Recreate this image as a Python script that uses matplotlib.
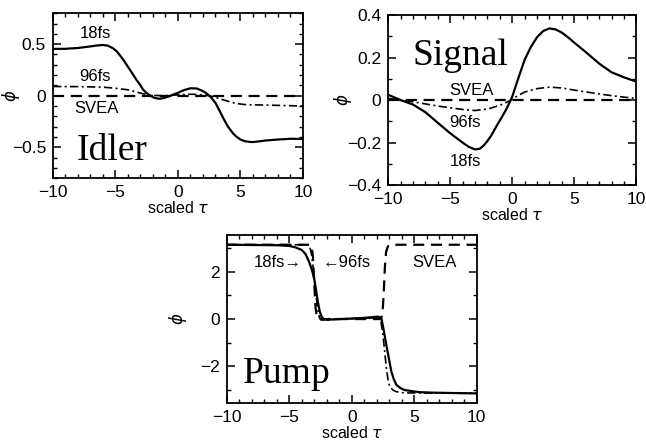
import matplotlib
matplotlib.use("Agg")
import matplotlib.pyplot as plt
from matplotlib.ticker import MultipleLocator, FuncFormatter

# ---- Idler ----
idl_tau = [-10, -9, -8, -7, -6.5, -6, -5.6, -5.2, -4.9, -4.6, -4.3, -4, -3.7, -3.3, -3,
           -2.8, -2.5, -2.2, -1.9, -1.5, -1.1, -0.7, -0.3, 0, 0.5, 1, 1.5, 1.9, 2.2, 2.6,
           3, 3.3, 3.7, 4, 4.4, 4.7, 5, 5.3, 5.7, 6, 6.5, 7, 8, 9, 10]
idl_18 = [0.454, 0.455, 0.463, 0.478, 0.487, 0.492, 0.485, 0.46, 0.43, 0.385, 0.335,
          0.28, 0.225, 0.15, 0.10, 0.06, 0.025, 0.0, -0.02, -0.03, -0.022, -0.005, 0.015,
          0.028, 0.055, 0.072, 0.07, 0.05, 0.03, -0.01, -0.07, -0.14, -0.235, -0.30,
          -0.365, -0.40, -0.425, -0.44, -0.448, -0.45, -0.443, -0.435, -0.425, -0.418,
          -0.42]
idl96_tau = [-10, -8, -6, -5, -4, -3.4, -2.8, -2.3, -2, -1, 0, 1, 2, 2.7, 3.3, 4, 4.6,
             5.3, 6, 6.7, 8, 9, 10]
idl_96 = [0.089, 0.088, 0.083, 0.072, 0.057, 0.038, 0.019, 0.008, 0.003, 0.0, 0.008,
          0.014, 0.01, -0.006, -0.028, -0.054, -0.074, -0.086, -0.089, -0.09, -0.094,
          -0.097, -0.10]

# ---- Signal ----
sig_tau = [-10, -9, -8, -7, -6, -5, -4, -3.5, -3, -2.6, -2.3, -2, -1.67, -1.3, -0.86,
           -0.5, -0.19, 0, 0.5, 1, 1.5, 2, 2.5, 3, 3.5, 4, 4.5, 5, 6, 7, 8, 9, 10]
sig_18 = [0.025, 0.0, -0.021, -0.057, -0.107, -0.156, -0.20, -0.22, -0.232, -0.228,
          -0.213, -0.192, -0.164, -0.125, -0.082, -0.045, -0.008, 0.017, 0.105, 0.19,
          0.25, 0.296, 0.325, 0.337, 0.332, 0.317, 0.295, 0.27, 0.222, 0.172, 0.131,
          0.107, 0.087]
sig96_tau = [-10, -8, -6, -4, -3, -1.9, -0.86, -0.2, 0, 1, 2, 3, 4, 5, 6, 7, 8, 9, 10]
sig_96 = [0.008, -0.008, -0.028, -0.044, -0.049, -0.041, -0.021, -0.003, 0.006, 0.038,
          0.054, 0.061, 0.057, 0.047, 0.038, 0.029, 0.021, 0.014, 0.008]

# ---- Pump ----
pmp_tau = [-10, -6, -5, -4.5, -4, -3.7, -3.4, -3.2, -3.0, -2.85, -2.7, -2.55, -2.4, -2.2,
           -2, -1, 0, 1, 1.8, 2.1, 2.37, 2.55, 2.77, 3.0, 3.17, 3.37, 3.57, 3.9, 4.24, 5,
           5.44, 6.5, 7.57, 10]
pmp_18 = [3.14, 3.12, 3.09, 3.03, 2.92, 2.75, 2.4, 2.1, 1.7, 1.2, 0.7, 0.3, 0.08, -0.02,
          -0.03, 0.0, 0.02, 0.05, 0.09, 0.1, 0.04, -0.45, -1.1, -1.75, -2.22, -2.55,
          -2.78, -2.92, -3.0, -3.06, -3.09, -3.11, -3.12, -3.14]
pmp96_tau = [-10, -3.5, -3.35, -3.2, -3.05, -2.9, -2.75, -2.6, -2.45, -2.2, -2, 0, 2,
             2.3, 2.5, 2.65, 2.77, 2.9, 3.04, 3.3, 3.57, 4.2, 10]
pmp_96 = [3.14, 3.14, 3.05, 2.7, 2.0, 1.2, 0.5, 0.08, -0.04, -0.04, -0.03, 0.02, 0.05,
          0.02, -0.67, -1.45, -2.08, -2.55, -2.86, -3.0, -3.07, -3.12, -3.14]
svea_tau = [-10, -3.35, -3.2, -3.1, -3.0, -2.9, -2.8, -2.65, 2.3, 2.45, 2.55, 2.65,
            2.75, 2.9, 3.2, 10]
svea_p = [3.14, 3.14, 3.05, 2.6, 1.5, 0.5, 0.1, 0.0, 0.0, 0.2, 1.0, 2.2, 2.85, 3.08,
          3.14, 3.14]

SOLID = dict(color="black", lw=1.6)
DASH = dict(color="black", lw=1.6, ls=(0, (5, 3)))
DASHDOT = dict(color="black", lw=1.2, ls=(0, (5, 2, 1.2, 2)))
SERIF = dict(family="Liberation Serif", fontsize=27)
SANS = "Liberation Sans"
plt.rcParams["font.family"] = SANS
plt.rcParams["mathtext.fontset"] = "dejavusans"

fig = plt.figure(figsize=(6.46, 4.41), dpi=100)

fmt = FuncFormatter(lambda v, _: ("%g" % round(v, 6)).replace("-", "\u2212"))


def style(ax, ylim, ymaj, ymin, ylab_x):
    ax.set_xlim(-10, 10)
    ax.set_ylim(*ylim)
    ax.xaxis.set_major_locator(MultipleLocator(5))
    ax.xaxis.set_minor_locator(MultipleLocator(1))
    ax.yaxis.set_major_locator(MultipleLocator(ymaj))
    ax.yaxis.set_minor_locator(MultipleLocator(ymin))
    ax.xaxis.set_major_formatter(fmt)
    ax.yaxis.set_major_formatter(fmt)
    ax.tick_params(which="both", direction="in", top=True, right=True, labelsize=12.5)
    ax.tick_params(which="major", length=6, width=1.1, pad=5)
    ax.tick_params(which="minor", length=3, width=1.0)
    for s in ax.spines.values():
        s.set_linewidth(1.3)
    ax.set_xlabel(r"scaled $\tau$", fontsize=11.5, labelpad=0)
    ax.set_ylabel(r"$\phi$", fontsize=12)
    ax.yaxis.set_label_coords(ylab_x, 0.5)


# Idler
ax1 = fig.add_axes([0.082, 0.596, 0.387, 0.374])
ax1.plot(idl_tau, idl_18, **SOLID)
ax1.plot(idl96_tau, idl_96, **DASHDOT)
ax1.axhline(0, **DASH)
style(ax1, (-0.8, 0.8), 0.5, 0.1, -0.125)
ax1.text(-6.6, 0.6, "18fs", ha="center", va="center", fontsize=12)
ax1.text(-6.6, 0.19, "96fs", ha="center", va="center", fontsize=12)
ax1.text(-6.5, -0.12, "SVEA", ha="center", va="center", fontsize=12)
ax1.text(-5.3, -0.53, "Idler", ha="center", va="center", **SERIF)

# Signal
ax2 = fig.add_axes([0.601, 0.580, 0.384, 0.386])
ax2.plot(sig_tau, sig_18, **SOLID)
ax2.plot(sig96_tau, sig_96, **DASHDOT)
ax2.axhline(0, **DASH)
style(ax2, (-0.4, 0.4), 0.2, 0.1, -0.137)
ax2.text(-4.2, 0.21, "Signal", ha="center", va="center", **SERIF)
ax2.text(-3.3, 0.045, "SVEA", ha="center", va="center", fontsize=12)
ax2.text(-3.8, -0.105, "96fs", ha="center", va="center", fontsize=12)
ax2.text(-3.8, -0.29, "18fs", ha="center", va="center", fontsize=12)

# Pump
ax3 = fig.add_axes([0.351, 0.086, 0.387, 0.381])
ax3.plot(pmp_tau, pmp_18, **SOLID)
ax3.plot(pmp96_tau, pmp_96, **DASHDOT)
ax3.plot(svea_tau, svea_p, **DASH)
style(ax3, (-3.55, 3.55), 2, 1, -0.152)
ax3.text(-5.9, 2.41, "18fs\u2192", ha="center", va="center", fontsize=12,
         family=[SANS, "DejaVu Sans"])
ax3.text(-0.4, 2.41, "\u219096fs", ha="center", va="center", fontsize=12,
         family=[SANS, "DejaVu Sans"])
ax3.text(6.6, 2.41, "SVEA", ha="center", va="center", fontsize=12)
ax3.text(-5.2, -2.3, "Pump", ha="center", va="center", **SERIF)

fig.savefig("out.png", dpi=100)
